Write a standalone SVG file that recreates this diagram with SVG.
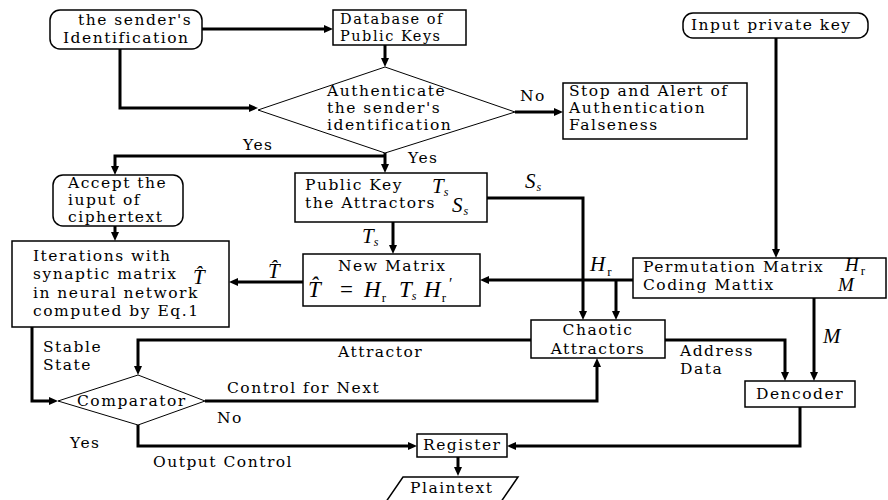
<svg xmlns="http://www.w3.org/2000/svg" width="888" height="500" viewBox="0 0 888 500">
<defs>
<style>
.t{font-family:"DejaVu Serif","Liberation Serif",serif;font-size:15.5px;letter-spacing:1.5px;fill:#000}
.m{font-family:"Liberation Serif","Times New Roman",serif;font-style:italic;font-size:21px;fill:#000}
.s{font-size:12px}
.r{font-style:normal;font-size:13px}
.box{fill:#fff;stroke:#000;stroke-width:1.5}
.dia{fill:#fff;stroke:#000;stroke-width:1}
.c{fill:none;stroke:#000;stroke-width:3;marker-end:url(#ah)}
</style>
<marker id="ah" markerUnits="userSpaceOnUse" markerWidth="10" markerHeight="9" refX="3" refY="4" orient="auto">
<path d="M0,0 L9,4 L0,8 z" fill="#000"/>
</marker>
</defs>
<rect width="888" height="500" fill="#fff"/>

<g id="connectors">
<path class="c" d="M202,29 H327"/>
<path class="c" d="M120,49 V108 H252"/>
<path class="c" d="M385,45 V61"/>
<path class="c" d="M515,112 H557"/>
<path class="c" d="M385,153 V167"/>
<path class="c" d="M385,156 H115 V169"/>
<path class="c" d="M115,226 V235"/>
<path class="c" d="M776,38 V252"/>
<path class="c" d="M393,222 V248"/>
<path class="c" d="M487,198 H583 V314"/>
<path class="c" d="M633,280 H486"/>
<path class="c" d="M616,280 V314"/>
<path class="c" d="M303,282 H235"/>
<path class="c" d="M531,340 H138 V369"/>
<path class="c" d="M32,327 V401 H52"/>
<path class="c" d="M205,401 H597 V364"/>
<path class="c" d="M138,425 V446 H411"/>
<path class="c" d="M665,340 H785 V375"/>
<path class="c" d="M814,298 V375"/>
<path class="c" d="M800,407 V446 H513"/>
<path class="c" d="M458,457 V470"/>
<text class="t" x="243" y="150">Yes</text>
<text class="t" x="408" y="163">Yes</text>
<text class="t" x="520" y="101">No</text>
<text class="m" x="525" y="188">S<tspan class="s" dx="1" dy="3">s</tspan></text>
<text class="m" x="362" y="243">T<tspan class="s" dy="3">s</tspan></text>
<text class="m" x="268" y="278">T&#x302;</text>
<text class="m" x="590" y="271">H<tspan class="r" dx="2" dy="5">r</tspan></text>
<text class="t" x="338" y="357">Attractor</text>
<text class="t" x="43" y="352">Stable</text>
<text class="t" x="43" y="370">State</text>
<text class="t" x="227" y="393">Control for Next</text>
<text class="t" x="217" y="423">No</text>
<text class="t" x="70" y="448">Yes</text>
<text class="t" x="153" y="467">Output Control</text>
<text class="t" x="680" y="356">Address</text>
<text class="t" x="680" y="374">Data</text>
<text class="m" x="823" y="343">M</text>
</g>

<g id="sender">
<rect class="box" x="50" y="10" width="152" height="39" rx="10"/>
<text class="t" x="78" y="25">the sender's</text>
<text class="t" x="63" y="43">Identification</text>
</g>

<g id="database">
<rect class="box" x="333" y="10" width="133" height="35"/>
<text class="t" x="340" y="24" style="font-size:14.5px">Database of</text>
<text class="t" x="340" y="41" style="font-size:14.5px">Public Keys</text>
</g>

<g id="authenticate">
<polygon class="dia" points="258,110 385,67 515,112 385,153"/>
<text class="t" x="327" y="96">Authenticate</text>
<text class="t" x="327" y="113">the sender's</text>
<text class="t" x="327" y="130">identification</text>
</g>

<g id="stop">
<rect class="box" x="563" y="83" width="184" height="56"/>
<text class="t" x="569" y="96">Stop and Alert of</text>
<text class="t" x="569" y="113">Authentication</text>
<text class="t" x="569" y="130">Falseness</text>
</g>

<g id="privatekey">
<rect class="box" x="683" y="13" width="185" height="25" rx="10"/>
<text class="t" x="691" y="30">Input private key</text>
</g>

<g id="accept">
<rect class="box" x="53" y="175" width="130" height="51" rx="10"/>
<text class="t" x="68" y="188">Accept the</text>
<text class="t" x="68" y="205">iuput of</text>
<text class="t" x="68" y="222">ciphertext</text>
</g>

<g id="iterations">
<rect class="box" x="12" y="241" width="217" height="86"/>
<text class="t" x="33" y="261">Iterations with</text>
<text class="t" x="33" y="279">synaptic matrix <tspan class="m" x="193" y="284">T&#x302;</tspan></text>
<text class="t" x="33" y="298">in neural network</text>
<text class="t" x="33" y="316">computed by Eq.1</text>
</g>

<g id="publickey">
<rect class="box" x="295" y="173" width="192" height="49"/>
<text class="t" x="305" y="190">Public Key<tspan class="m" x="432" y="193" style="letter-spacing:0">T</tspan><tspan class="m s" dy="3" style="letter-spacing:0">s</tspan></text>
<text class="t" x="305" y="208">the Attractors<tspan class="m" x="452" y="212" style="letter-spacing:0">S</tspan><tspan class="m s" dx="1" dy="3" style="letter-spacing:0">s</tspan></text>
</g>

<g id="newmatrix">
<rect class="box" x="303" y="254" width="177" height="52"/>
<text class="t" x="338" y="271">New Matrix</text>
<text class="m" x="308" y="297" style="font-size:23px">T&#x302;<tspan x="340" style="font-style:normal">=</tspan><tspan x="364">H</tspan><tspan class="r" dx="1" dy="5">r</tspan><tspan x="399" dy="-5">T</tspan><tspan class="s" dy="3">s</tspan><tspan x="424" dy="-3">H</tspan><tspan class="r" dx="1" dy="5">r</tspan><tspan class="r" x="449" dy="-13" style="font-size:16px">′</tspan></text>
</g>

<g id="permutation">
<rect class="box" x="633" y="258" width="253" height="40"/>
<text class="t" x="643" y="272">Permutation Matrix<tspan class="m" x="845" y="271" style="letter-spacing:0;font-size:19px">H</tspan><tspan class="m r" dx="2" dy="4" style="letter-spacing:0">r</tspan></text>
<text class="t" x="643" y="290">Coding Mattix<tspan class="m" x="838" y="291" style="letter-spacing:0;font-size:19px">M</tspan></text>
</g>

<g id="chaotic">
<rect class="box" x="531" y="320" width="134" height="38"/>
<text class="t" x="598" y="335" text-anchor="middle">Chaotic</text>
<text class="t" x="598" y="354" text-anchor="middle">Attractors</text>
</g>

<g id="comparator">
<polygon class="dia" points="58,401 138,375 205,401 138,425"/>
<text class="t" x="77" y="406">Comparator</text>
</g>

<g id="dencoder">
<rect class="box" x="745" y="381" width="110" height="26"/>
<text class="t" x="756" y="399">Dencoder</text>
</g>

<g id="register">
<rect class="box" x="417" y="434" width="90" height="23"/>
<text class="t" x="423" y="450">Register</text>
</g>

<g id="plaintext">
<polygon class="box" points="403,477 518,477 494,512 379,512"/>
<text class="t" x="410" y="493">Plaintext</text>
</g>
</svg>
